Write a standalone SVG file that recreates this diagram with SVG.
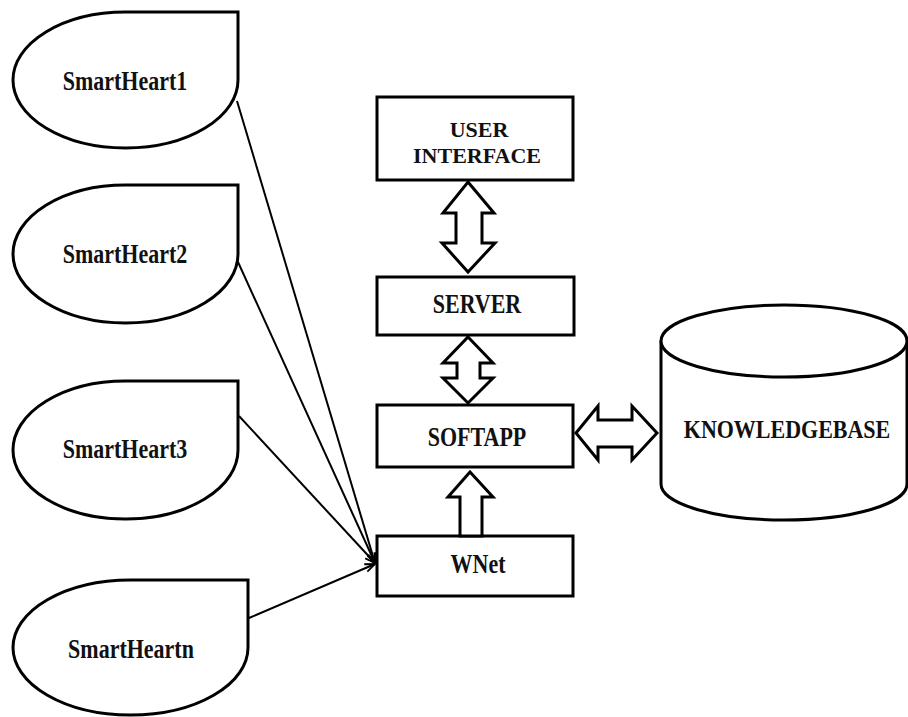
<svg xmlns="http://www.w3.org/2000/svg" width="908" height="717" viewBox="0 0 908 717">
  <style>
    .shape { fill: #fff; stroke: #000; stroke-width: 3; stroke-linejoin: miter; }
    .block { fill: #fff; stroke: #000; stroke-width: 3; stroke-linejoin: miter; }
    .link { fill: none; stroke: #000; stroke-width: 2; }
    .lbl { font-family: "Liberation Serif", "Times New Roman", serif; font-size: 22px; font-weight: bold; fill: #111; text-anchor: middle; }
  </style>
  <defs>
    <marker id="open-arrow" viewBox="0 0 12 10" refX="11" refY="5" markerWidth="12" markerHeight="10" markerUnits="userSpaceOnUse" orient="auto">
      <path d="M1,1 L11,5 L1,9" fill="none" stroke="#000" stroke-width="1.8"/>
    </marker>
  </defs>
  <rect width="908" height="717" fill="#fff"/>

  <!-- sensor nodes (teardrop shapes) -->
  <g id="smartheart1">
    <path class="shape" d="M125.5,12 L238,12 L238,80 A112.5,68 0 0 1 125.5,148 A112.5,68 0 0 1 13,80 A112.5,68 0 0 1 125.5,12 Z"/>
    <text class="lbl" transform="translate(125,90) scale(1,1.2)">SmartHeart1</text>
  </g>
  <g id="smartheart2">
    <path class="shape" d="M125.5,185 L238,185 L238,254 A112.5,69 0 0 1 125.5,323 A112.5,69 0 0 1 13,254 A112.5,69 0 0 1 125.5,185 Z"/>
    <text class="lbl" transform="translate(125,263) scale(1,1.2)">SmartHeart2</text>
  </g>
  <g id="smartheart3">
    <path class="shape" d="M125.5,381 L238,381 L238,450 A112.5,69 0 0 1 125.5,519 A112.5,69 0 0 1 13,450 A112.5,69 0 0 1 125.5,381 Z"/>
    <text class="lbl" transform="translate(125,458) scale(1,1.2)">SmartHeart3</text>
  </g>
  <g id="smartheartn">
    <path class="shape" d="M130.5,580 L248,580 L248,647.5 A117.5,67.5 0 0 1 130.5,715 A117.5,67.5 0 0 1 13,647.5 A117.5,67.5 0 0 1 130.5,580 Z"/>
    <text class="lbl" transform="translate(131,658) scale(1,1.2)">SmartHeartn</text>
  </g>

  <!-- central stack -->
  <g id="user-interface">
    <rect class="shape" x="377" y="97" width="196" height="83"/>
    <text class="lbl" x="479" y="137">USER</text>
    <text class="lbl" x="477" y="163">INTERFACE</text>
  </g>
  <g id="server">
    <rect class="shape" x="377" y="277" width="197" height="58"/>
    <text class="lbl" transform="translate(477,313) scale(1,1.2)">SERVER</text>
  </g>
  <g id="softapp">
    <rect class="shape" x="377" y="405" width="196" height="62"/>
    <text class="lbl" transform="translate(477,446) scale(1,1.2)">SOFTAPP</text>
  </g>
  <g id="wnet">
    <rect class="shape" x="377" y="536" width="196" height="60"/>
    <text class="lbl" transform="translate(478,573) scale(1,1.2)">WNet</text>
  </g>

  <!-- database cylinder -->
  <g id="knowledgebase">
    <path class="shape" d="M661,341 L661,484 A123,36 0 0 0 907,484 L907,341"/>
    <ellipse class="shape" cx="784" cy="341" rx="123" ry="36"/>
    <text class="lbl" transform="translate(787,438) scale(1,1.15)">KNOWLEDGEBASE</text>
  </g>

  <g id="connectors">
    <!-- sensor links into WNet -->
    <line class="link" x1="237" y1="101" x2="375" y2="563" marker-end="url(#open-arrow)"/>
    <line class="link" x1="238" y1="262" x2="375" y2="563" marker-end="url(#open-arrow)"/>
    <line class="link" x1="239" y1="416" x2="375" y2="563" marker-end="url(#open-arrow)"/>
    <line class="link" x1="249" y1="618" x2="375" y2="564" marker-end="url(#open-arrow)"/>

    <!-- block arrows -->
    <polygon class="block" points="468,182 494,213 482,213 482,243 495,243 468,272 442,243 456,243 456,213 443,213"/>
    <polygon class="block" points="468,337 493,363 480,363 480,378 493,378 468,403 443,378 457,378 457,363 443,363"/>
    <polygon class="block" points="576,433 598,406 598,420 632,420 632,406 657,433 632,460 632,447 598,447 598,460"/>
    <polygon class="block" points="470,472 493,497 482,497 482,536 460,536 460,497 448,497"/>
  </g>
</svg>
